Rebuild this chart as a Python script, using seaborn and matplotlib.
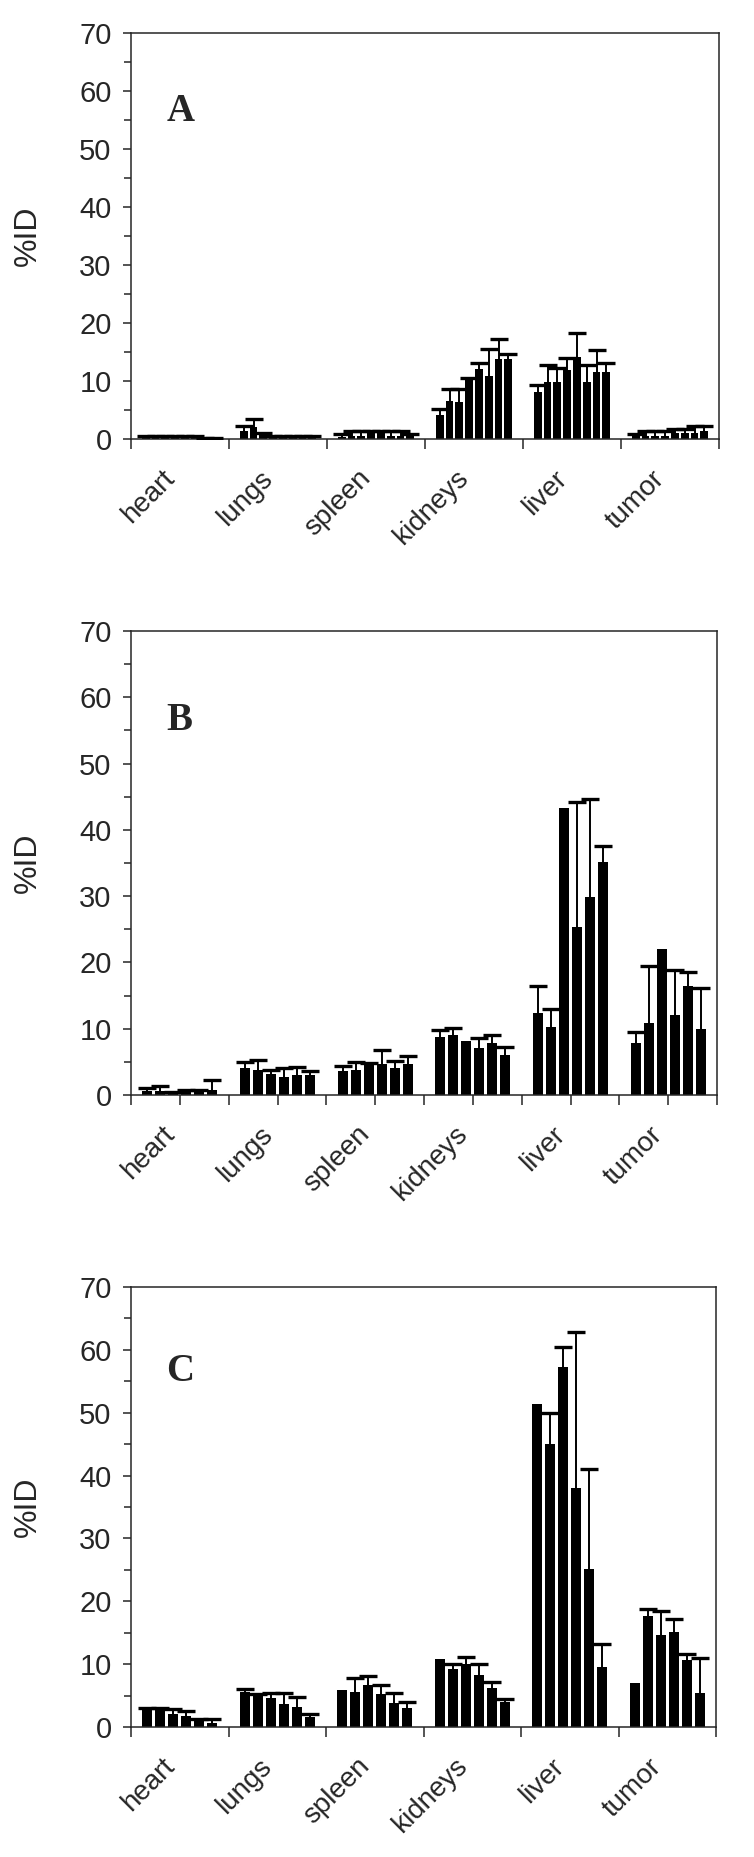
import numpy as np
import pandas as pd
import matplotlib
matplotlib.use("Agg")
import matplotlib.pyplot as plt
from matplotlib.ticker import MultipleLocator
import seaborn as sns

organs = ["heart", "lungs", "spleen", "kidneys", "liver", "tumor"]

# panel A: 8 bars per organ (mean %ID, upper SD)
mean_A = [
    [0.2, 0.2, 0.2, 0.2, 0.2, 0.2, 0.05, 0.05],
    [1.4, 2.0, 0.8, 0.3, 0.3, 0.3, 0.3, 0.3],
    [0.4, 0.5, 0.6, 1.1, 1.1, 0.6, 0.6, 0.5],
    [4.1, 6.6, 6.4, 10.4, 12.0, 10.8, 13.8, 13.8],
    [8.1, 9.8, 9.8, 11.9, 14.2, 9.8, 11.6, 11.6],
    [0.5, 0.6, 0.6, 0.6, 1.1, 1.1, 1.1, 1.4],
]
sd_A = [
    [0.4, 0.4, 0.4, 0.4, 0.4, 0.4, 0.05, 0.05],
    [0.9, 1.5, 0.2, 0.3, 0.3, 0.3, 0.3, 0.3],
    [0.5, 0.9, 0.8, 0.3, 0.3, 0.8, 0.8, 0.4],
    [1.1, 2.1, 2.3, 0.1, 1.1, 4.7, 3.5, 0.8],
    [1.2, 3.0, 2.4, 2.0, 4.0, 3.0, 3.7, 1.5],
    [0.3, 0.8, 0.8, 0.8, 0.7, 0.7, 1.2, 0.9],
]

# panel B: 6 bars per organ
mean_B = [
    [0.6, 0.6, 0.45, 0.45, 0.45, 0.7],
    [4.1, 3.8, 3.2, 2.7, 3.0, 3.0],
    [3.6, 3.8, 4.7, 4.7, 4.1, 4.7],
    [8.8, 9.1, 8.2, 7.1, 7.9, 6.1],
    [12.4, 10.2, 43.3, 25.4, 29.8, 35.2],
    [7.9, 10.9, 22.1, 12.0, 16.5, 10.0],
]
sd_B = [
    [0.4, 0.7, 0.05, 0.25, 0.25, 1.5],
    [0.9, 1.5, 0.6, 1.3, 1.2, 0.6],
    [0.8, 1.2, 0.1, 2.1, 1.0, 1.2],
    [1.0, 1.0, 0.0, 1.5, 1.2, 1.1],
    [4.0, 2.7, 0.0, 18.8, 14.8, 2.3],
    [1.6, 8.5, 0.0, 6.8, 2.0, 6.1],
]

# panel C: 6 bars per organ
mean_C = [
    [2.9, 2.9, 2.1, 1.7, 1.1, 0.6],
    [5.5, 5.1, 4.6, 3.6, 3.2, 1.6],
    [5.9, 5.6, 6.7, 5.3, 3.8, 3.0],
    [10.8, 9.2, 10.0, 8.2, 6.2, 4.0],
    [51.4, 45.1, 57.2, 38.0, 25.1, 9.6],
    [7.0, 17.7, 14.6, 15.1, 10.6, 5.4],
]
sd_C = [
    [0.05, 0.1, 0.8, 0.8, 0.2, 0.7],
    [0.6, 0.2, 0.8, 1.8, 1.6, 0.5],
    [0.0, 2.2, 1.4, 1.4, 1.6, 1.0],
    [0.0, 0.8, 1.1, 1.8, 1.0, 0.5],
    [0.0, 4.8, 3.3, 24.9, 15.9, 3.6],
    [0.0, 1.0, 3.8, 2.1, 1.0, 5.5],
]

sns.set_style("ticks")
plt.rcParams["font.family"] = ["Liberation Sans", "DejaVu Sans"]


def draw_panel(ax, means, sds, letter, mid_ticks):
    n = len(means[0])
    df = pd.DataFrame({
        "organ": np.repeat(organs, n),
        "grp": np.tile([f"g{i}" for i in range(n)], len(organs)),
        "pid": np.concatenate(means),
    })
    sns.barplot(data=df, x="organ", y="pid", hue="grp", palette=["black"] * n,
                width=0.8, gap=0.22, errorbar=None, legend=False,
                saturation=1, linewidth=0, ax=ax, zorder=2)

    # one-sided (upper) error bars placed on the bar centres
    sd_flat = np.array(sds).T.ravel()
    xs = np.array([p.get_x() + p.get_width() / 2 for p in ax.patches])
    ys = np.array([p.get_height() for p in ax.patches])
    keep = sd_flat > 0
    xs, ys, sd_flat = xs[keep], ys[keep], sd_flat[keep]
    ax.errorbar(xs, ys, yerr=[np.zeros_like(sd_flat), sd_flat], fmt="none",
                ecolor="black", elinewidth=1.4, capsize=0, zorder=3)
    ax.plot(xs, ys + sd_flat, "_", color="black", ms=13, mew=2.4, zorder=3)

    ax.set_xlim(-0.5, 5.5)
    ax.set_ylim(0, 70)
    ax.set_yticks(range(0, 71, 10))
    ax.yaxis.set_minor_locator(MultipleLocator(5))
    ax.set_xticks(np.arange(-0.5, 6, 1), minor=True)
    ax.set_xticks(range(6))
    ax.set_xticklabels(organs, rotation=45, ha="right")
    ax.tick_params(axis="y", which="major", length=6, width=1.1, labelsize=21, pad=8)
    ax.tick_params(axis="y", which="minor", length=5, width=1.1)
    ax.tick_params(axis="x", which="minor", length=7, width=1.1)
    if mid_ticks:
        ax.tick_params(axis="x", which="major", length=7, width=1.1, labelsize=20, pad=12)
    else:
        ax.tick_params(axis="x", which="major", length=0, labelsize=20, pad=19)
    for s in ax.spines.values():
        s.set_linewidth(1.1)
    ax.set_xlabel("")
    ax.set_ylabel("%ID", fontsize=23)
    ax.yaxis.set_label_coords(-0.15, 0.5)
    ax.text(0.06, 56.5, letter, fontsize=28, fontweight="bold",
            family="Liberation Serif", va="center", ha="left",
            transform=ax.get_yaxis_transform())


fig = plt.figure(figsize=(7.54, 18.57), dpi=100)
W, H = 754, 1857
ax_a = fig.add_axes([131 / W, (H - 439) / H, 588 / W, 406 / H])
ax_b = fig.add_axes([131 / W, (H - 1095) / H, 586 / W, 464 / H])
ax_c = fig.add_axes([131 / W, (H - 1727) / H, 585 / W, 440 / H])

draw_panel(ax_a, mean_A, sd_A, "A", False)
draw_panel(ax_b, mean_B, sd_B, "B", True)
draw_panel(ax_c, mean_C, sd_C, "C", False)

fig.savefig("out.png", dpi=100)
